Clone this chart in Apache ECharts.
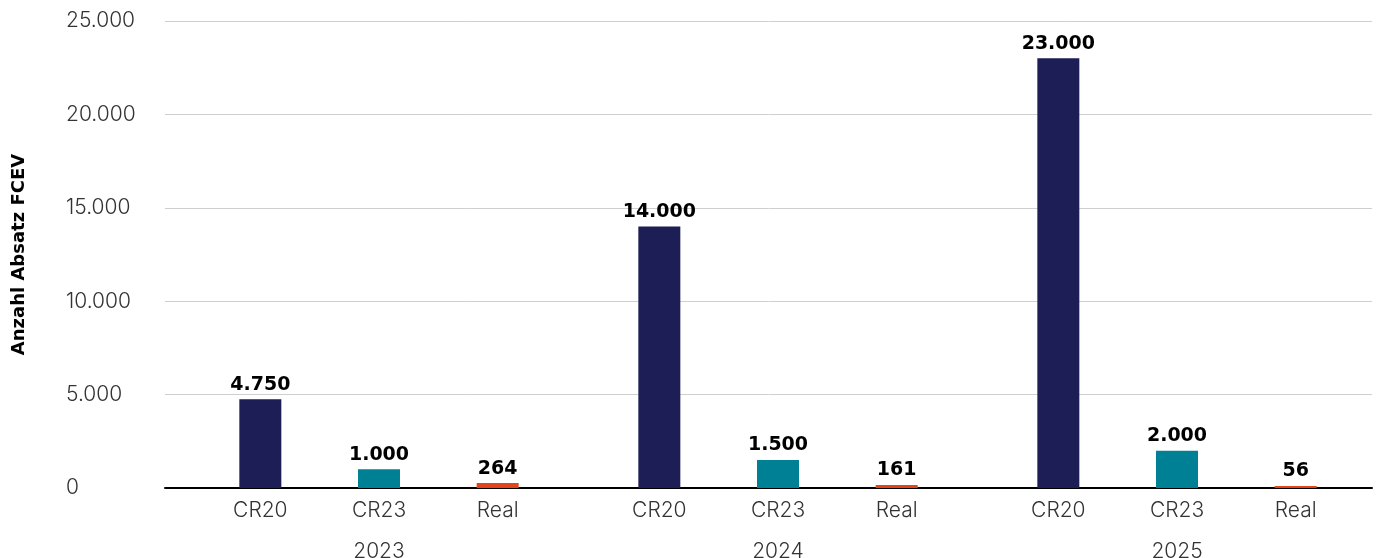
<!DOCTYPE html>
<html>
<head>
<meta charset="utf-8">
<script src="https://cdn.jsdelivr.net/npm/echarts@6/dist/echarts.min.js"></script>
<style>
  html, body { margin: 0; padding: 0; background: #ffffff; }
  #chart { width: 1379px; height: 558px; }
</style>
</head>
<body>
<div id="chart"></div>
<script>
// FCEV sales: scenario targets (CR20, CR23) vs. actual figures per year
const years = ['2023', '2024', '2025'];
const scenarios = ['CR20', 'CR23', 'Real'];
const valuesCR20 = [4750, 14000, 23000];
const valuesCR23 = [1000, 1500, 2000];
const valuesReal = [264, 161, 56];
const yAxisTitle = 'Anzahl Absatz FCEV';

const scenarioColors = ['#1d1e55', '#008094', '#e3441a'];

// layout of the plot area (px)
const plotLeft = 165, plotRight = 1372, plotTop = 21, plotBottom = 488;
const groupWidth = 356;
const groupCenters = [379, 778, 1177];

const fmt = v => String(v).replace(/\B(?=(\d{3})+(?!\d))/g, '.');
const numFont = 'Inter, "Liberation Sans", sans-serif';
const tickText = { fontSize: 21, fontFamily: numFont, fontWeight: 300, color: '#333333' };

// fixed grid rectangles: the year labels run to the bottom edge on purpose
const gridBox = left => ({
  left: left, width: 0, top: plotTop, height: plotBottom - plotTop,
  outerBoundsMode: 'none', containLabel: false
});

const grids = [Object.assign(gridBox(plotLeft), { width: plotRight - plotLeft })];
const xAxes = [{
  type: 'category', gridIndex: 0, data: [''],
  axisLine: { show: true, lineStyle: { color: '#000000', width: 2 } },
  axisTick: { show: false }, axisLabel: { show: false }, splitLine: { show: false }
}];
const yAxes = [{
  type: 'value', gridIndex: 0, min: 0, max: 25000, interval: 5000,
  name: yAxisTitle, nameLocation: 'middle', nameGap: 137, nameRotate: 90,
  nameTextStyle: { fontFamily: '"DejaVu Sans", sans-serif', fontWeight: 'bold', fontSize: 18, color: '#000000' },
  axisLine: { show: false }, axisTick: { show: false },
  axisLabel: Object.assign({ formatter: fmt, align: 'left', margin: 99 }, tickText),
  splitLine: { lineStyle: { color: '#cfcfcf', width: 1 } }
}];
const series = [];

years.forEach((year, i) => {
  const gi = i + 1;
  grids.push(Object.assign(gridBox(groupCenters[i] - groupWidth / 2), { width: groupWidth }));
  const catAxis = xAxes.length;
  xAxes.push({
    type: 'category', gridIndex: gi, data: scenarios,
    axisLine: { show: false }, axisTick: { show: false },
    axisLabel: Object.assign({ margin: 12 }, tickText)
  });
  xAxes.push({
    type: 'category', gridIndex: gi, data: [year], position: 'bottom', offset: 41,
    axisLine: { show: false }, axisTick: { show: false },
    axisLabel: Object.assign({ margin: 12 }, tickText)
  });
  yAxes.push({
    type: 'value', gridIndex: gi, min: 0, max: 25000, interval: 5000, show: false
  });
  const vals = [valuesCR20[i], valuesCR23[i], valuesReal[i]];
  series.push({
    type: 'bar', name: year, xAxisIndex: catAxis, yAxisIndex: gi,
    barWidth: 42, barMinHeight: 2,
    data: vals.map((v, k) => ({ value: v, itemStyle: { color: scenarioColors[k] } })),
    label: {
      show: true, position: 'top', distance: 5,
      formatter: p => fmt(p.value),
      fontFamily: '"DejaVu Sans", sans-serif', fontWeight: 'bold', fontSize: 19, color: '#000000'
    }
  });
});

const chart = echarts.init(document.getElementById('chart'), null, { renderer: 'canvas' });
chart.setOption({
  animation: false,
  backgroundColor: '#ffffff',
  grid: grids,
  xAxis: xAxes,
  yAxis: yAxes,
  series: series
});
</script>
</body>
</html>
